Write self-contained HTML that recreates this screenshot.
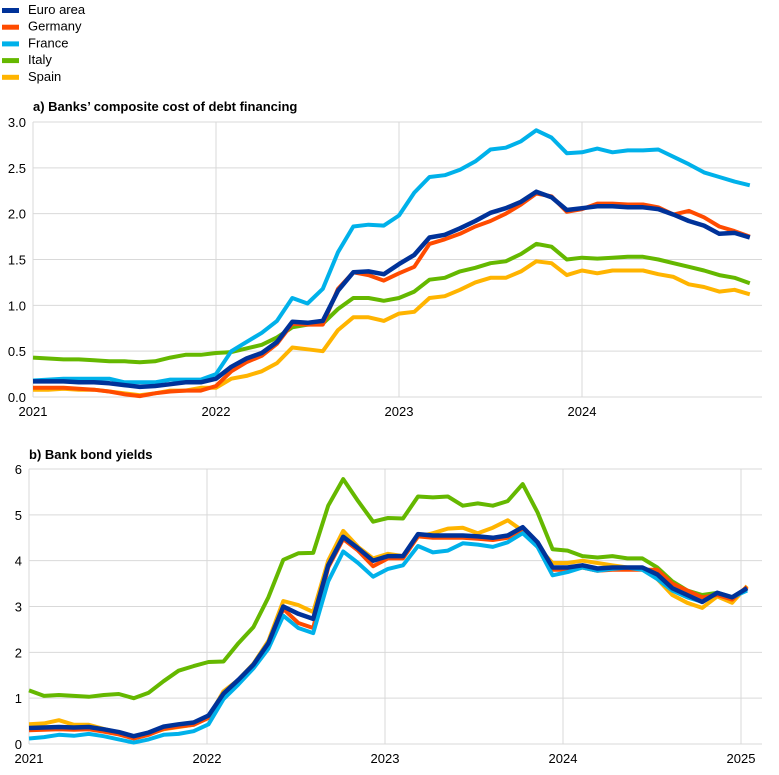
<!DOCTYPE html><html><head><meta charset="utf-8"><style>
body{margin:0;background:#fff;font-family:"Liberation Sans",Arial,sans-serif}
</style></head><body>
<svg id="s" width="779" height="770" xmlns="http://www.w3.org/2000/svg" font-family="Liberation Sans, Arial, sans-serif"></svg>
<script>
const s=document.getElementById('s');let h='';
const cols={ea:'#003299',de:'#ff4b00',fr:'#00b1ea',it:'#65b800',es:'#ffb400'};
const leg=[['Euro area','ea'],['Germany','de'],['France','fr'],['Italy','it'],['Spain','es']];
leg.forEach((l,i)=>{const y=10+i*16.7;h+=`<rect x="2" y="${y-2}" width="17" height="5" fill="${cols[l[1]]}"/><text x="28" y="${y+4}" font-size="13" fill="#000">${l[0]}</text>`;});
function chart(o){
 h+=`<text x="${o.tx}" y="${o.ty}" font-size="13" font-weight="bold">${o.title}</text>`;
 for(let k=0;k<=o.ny;k++){const y=o.y0-(o.y0-o.y1)*k/o.ny;h+=`<line x1="${o.x0}" x2="${o.x1}" y1="${y}" y2="${y}" stroke="#d9d9d9"/><text x="${o.x0-7}" y="${y+5}" font-size="13" text-anchor="end">${o.lab(k)}</text>`;}
 o.years.forEach((yr,i)=>{const x=o.x0+i*o.ys;h+=`<line x1="${x}" x2="${x}" y1="${o.y1}" y2="${o.y0}" stroke="#d9d9d9"/><text x="${x}" y="${o.y0+19}" font-size="13" text-anchor="middle">${yr}</text>`;});
 o.order.forEach(k=>{const d=o.d[k];const pts=d.map((v,i)=>`${(o.x0+i*o.ms).toFixed(1)},${(o.y0-(o.y0-o.y1)*v/o.max).toFixed(1)}`).join(' ');h+=`<polyline points="${pts}" fill="none" stroke="${cols[k]}" stroke-width="${k=='ea'?4.5:4}" stroke-linejoin="round"/>`;});
}
chart({tx:33,ty:111,title:'a) Banks’ composite cost of debt financing',x0:33,x1:762,y0:397,y1:122,ny:6,max:3,lab:k=>(k*0.5).toFixed(1),years:['2021','2022','2023','2024'],ys:183,ms:183/12,order:['it','es','de','fr','ea'],d:{
ea:[0.17,0.17,0.17,0.16,0.16,0.15,0.13,0.11,0.12,0.14,0.16,0.16,0.2,0.33,0.42,0.48,0.6,0.82,0.81,0.83,1.16,1.36,1.37,1.34,1.45,1.55,1.74,1.77,1.84,1.92,2.01,2.06,2.13,2.24,2.18,2.04,2.06,2.08,2.08,2.07,2.07,2.05,1.99,1.92,1.87,1.78,1.79,1.74],
de:[0.1,0.1,0.1,0.09,0.08,0.06,0.03,0.01,0.04,0.06,0.07,0.07,0.12,0.28,0.38,0.45,0.58,0.8,0.79,0.79,1.18,1.36,1.33,1.27,1.35,1.42,1.67,1.72,1.78,1.86,1.92,2.0,2.1,2.22,2.19,2.02,2.05,2.11,2.11,2.1,2.1,2.07,1.99,2.03,1.96,1.86,1.81,1.75],
fr:[0.18,0.19,0.2,0.2,0.2,0.2,0.16,0.16,0.16,0.19,0.19,0.19,0.25,0.5,0.6,0.7,0.83,1.08,1.02,1.18,1.58,1.86,1.88,1.87,1.98,2.23,2.4,2.42,2.48,2.57,2.7,2.72,2.79,2.91,2.83,2.66,2.67,2.71,2.67,2.69,2.69,2.7,2.62,2.54,2.45,2.4,2.35,2.31],
it:[0.43,0.42,0.41,0.41,0.4,0.39,0.39,0.38,0.39,0.43,0.46,0.46,0.48,0.49,0.53,0.57,0.65,0.76,0.79,0.8,0.96,1.08,1.08,1.05,1.08,1.15,1.28,1.3,1.37,1.41,1.46,1.48,1.56,1.67,1.64,1.5,1.52,1.51,1.52,1.53,1.53,1.5,1.46,1.42,1.38,1.33,1.3,1.24],
es:[0.08,0.08,0.09,0.08,0.08,0.06,0.04,0.02,0.04,0.07,0.07,0.1,0.1,0.2,0.23,0.28,0.37,0.54,0.52,0.5,0.73,0.87,0.87,0.83,0.91,0.93,1.08,1.1,1.17,1.25,1.3,1.3,1.37,1.48,1.46,1.33,1.38,1.35,1.38,1.38,1.38,1.34,1.31,1.23,1.2,1.15,1.17,1.12]}});
const ea=[0.35,0.36,0.37,0.36,0.37,0.32,0.26,0.17,0.25,0.38,0.43,0.47,0.62,1.1,1.4,1.73,2.2,3.0,2.84,2.73,3.9,4.52,4.27,4.0,4.1,4.1,4.58,4.55,4.55,4.55,4.53,4.5,4.55,4.73,4.4,3.85,3.85,3.9,3.83,3.85,3.85,3.85,3.7,3.4,3.25,3.1,3.3,3.2,3.4];
const de=ea.map((v,i)=>v-0.05+([18,19].includes(i)?-0.15:0)+(i==23?-0.07:0)+(i>=42&&i<=45?0.15:0)+(i==48?0.08:0));
chart({tx:29,ty:459,title:'b) Bank bond yields',x0:29,x1:762,y0:744,y1:469,ny:6,max:6,lab:k=>k,years:['2021','2022','2023','2024','2025'],ys:178,ms:14.96,order:['it','es','de','fr','ea'],d:{
ea:ea,de:de,
fr:[0.12,0.15,0.2,0.18,0.22,0.17,0.1,0.03,0.1,0.2,0.22,0.28,0.43,0.98,1.3,1.65,2.08,2.8,2.53,2.42,3.55,4.2,3.95,3.65,3.82,3.9,4.32,4.18,4.22,4.38,4.35,4.3,4.4,4.6,4.3,3.68,3.75,3.85,3.78,3.82,3.85,3.8,3.6,3.35,3.2,3.1,3.3,3.2,3.35],
it:[1.17,1.05,1.07,1.05,1.03,1.07,1.09,1.0,1.12,1.37,1.6,1.7,1.79,1.8,2.2,2.55,3.2,4.02,4.16,4.17,5.2,5.78,5.3,4.85,4.93,4.92,5.4,5.38,5.4,5.2,5.25,5.2,5.3,5.67,5.05,4.25,4.22,4.1,4.07,4.1,4.05,4.05,3.85,3.55,3.35,3.25,3.3,3.2,3.4],
es:[0.43,0.45,0.52,0.42,0.42,0.33,0.25,0.15,0.22,0.32,0.37,0.42,0.58,1.15,1.4,1.75,2.25,3.12,3.03,2.88,4.0,4.65,4.3,4.05,4.15,4.1,4.52,4.6,4.7,4.72,4.6,4.72,4.88,4.65,4.3,3.95,3.95,4.0,3.95,3.9,3.85,3.85,3.6,3.25,3.08,2.97,3.22,3.08,3.45]}});
s.innerHTML=h;
</script></body></html>
